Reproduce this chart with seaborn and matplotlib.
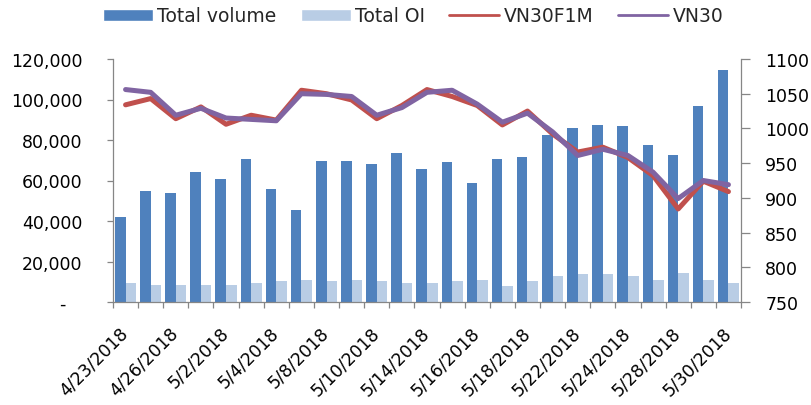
import numpy as np
import pandas as pd
import matplotlib
matplotlib.use('Agg')
import matplotlib.pyplot as plt
import seaborn as sns
from matplotlib.patches import Patch
from matplotlib.lines import Line2D
from matplotlib.ticker import FuncFormatter, MultipleLocator

dates = ['4/23/2018', '4/24/2018', '4/26/2018', '4/27/2018', '5/2/2018', '5/3/2018',
         '5/4/2018', '5/7/2018', '5/8/2018', '5/9/2018', '5/10/2018', '5/11/2018',
         '5/14/2018', '5/15/2018', '5/16/2018', '5/17/2018', '5/18/2018', '5/21/2018',
         '5/22/2018', '5/23/2018', '5/24/2018', '5/25/2018', '5/28/2018', '5/29/2018',
         '5/30/2018']
total_volume = [42100, 54800, 54000, 64000, 60600, 70800, 55600, 45400, 69800, 69800,
                68100, 73400, 65700, 69000, 58900, 70800, 71600, 82500, 85800, 87400,
                86700, 77400, 72400, 96800, 114400]
total_oi = [9400, 8400, 8400, 8400, 8400, 9400, 10200, 11000, 10200, 11000,
            10200, 9400, 9400, 10200, 11000, 7700, 10200, 12800, 13700, 13700,
            12800, 11000, 14500, 11000, 9400]
vn30f1m = [1034, 1043, 1014, 1031, 1006, 1019, 1012, 1055, 1050, 1041, 1014, 1033,
           1056, 1046, 1033, 1005, 1025, 992, 966, 973, 958, 932, 884, 924, 909]
vn30 = [1056, 1052, 1019, 1029, 1015, 1013, 1011, 1050, 1049, 1046, 1019, 1030,
        1052, 1055, 1035, 1009, 1022, 995, 961, 970, 961, 937, 899, 925, 919]

series_names = ['Total volume', 'Total OI', 'VN30F1M', 'VN30']
colors = {'Total volume': '#4F81BD', 'Total OI': '#B9CDE5',
          'VN30F1M': '#C0504D', 'VN30': '#8064A2'}
grey = '#868686'

sns.set_style('ticks')
plt.rcParams['font.family'] = ['DejaVu Sans']

fig = plt.figure(figsize=(8.12, 4.06), dpi=100)
ax = fig.add_axes([113 / 812, 1 - 303 / 406, (741 - 113) / 812, 243 / 406])

df = pd.DataFrame({
    'Date': dates * 2,
    'Value': total_volume + total_oi,
    'Series': ['Total volume'] * len(dates) + ['Total OI'] * len(dates),
})
sns.barplot(data=df, x='Date', y='Value', hue='Series',
            palette={k: colors[k] for k in ['Total volume', 'Total OI']},
            width=0.84, saturation=1, linewidth=0, legend=False, ax=ax)

ax2 = ax.twinx()
x = np.arange(len(dates))
sns.lineplot(x=x, y=vn30f1m, ax=ax2, color=colors['VN30F1M'], linewidth=3.6,
             solid_capstyle='round', solid_joinstyle='round')
sns.lineplot(x=x, y=vn30, ax=ax2, color=colors['VN30'], linewidth=3.6,
             solid_capstyle='round', solid_joinstyle='round')

ax.set_xlim(-0.5, len(dates) - 0.5)
ax2.set_xlim(-0.5, len(dates) - 0.5)
ax.set_ylim(0, 120000)
ax2.set_ylim(750, 1100)
ax.set_xlabel('')
ax.set_ylabel('')
ax2.set_ylabel('')

ax.yaxis.set_major_locator(MultipleLocator(20000))
ax.yaxis.set_major_formatter(FuncFormatter(lambda v, p: '-   ' if v == 0 else f'{int(v):,}'))
ax2.yaxis.set_major_locator(MultipleLocator(50))
ax2.yaxis.set_major_formatter(FuncFormatter(lambda v, p: f'{int(v)}'))

ax.set_xticks(x)
ax.set_xticklabels([d if i % 2 == 0 else '' for i, d in enumerate(dates)],
                   rotation=45, ha='right', va='center', rotation_mode='anchor')
ax.set_xticks(np.arange(-0.5, len(dates), 1), minor=True)
ax.tick_params(axis='x', which='major', length=0, pad=20, labelsize=12.5, labelcolor='black')
ax.tick_params(axis='x', which='minor', length=4.2, width=0.9, color=grey, direction='out')
ax.tick_params(axis='y', length=4, width=0.9, color=grey, pad=18, labelsize=12.5,
               labelcolor='black', direction='out')
ax2.tick_params(axis='y', length=6.5, width=0.9, color=grey, pad=11, labelsize=12.5,
                labelcolor='black', direction='out')

for a in (ax, ax2):
    a.spines['top'].set_visible(False)
    for s in a.spines.values():
        s.set_color(grey)
        s.set_linewidth(0.9)
ax.spines['right'].set_visible(False)
ax2.spines['left'].set_visible(False)
ax2.spines['bottom'].set_visible(False)

handles = [Patch(facecolor=colors['Total volume']), Patch(facecolor=colors['Total OI']),
           Line2D([], [], color=colors['VN30F1M'], lw=2),
           Line2D([], [], color=colors['VN30'], lw=2)]
fig.legend(handles, series_names, loc='center', bbox_to_anchor=(413 / 812, 1 - 17 / 406),
           ncol=4, frameon=False, fontsize=13.5, handlelength=2.67, handleheight=0.59,
           handletextpad=0.25, columnspacing=1.28, borderpad=0)

fig.savefig('out.png', dpi=100)
